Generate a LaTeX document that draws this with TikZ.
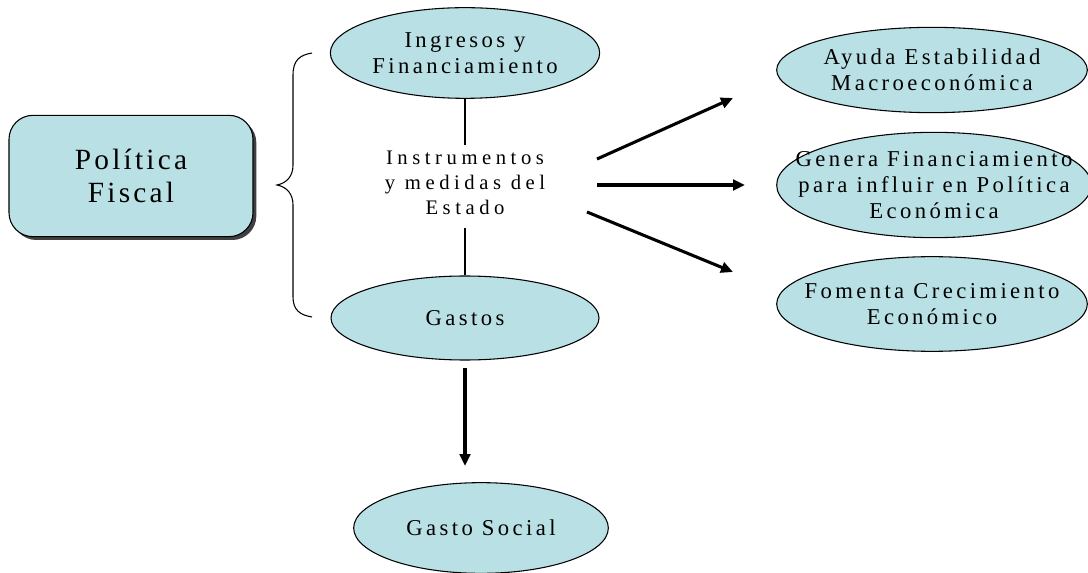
\documentclass[tikz,border=0pt]{standalone}
\usepackage{fontspec}
\setmainfont{Liberation Serif}
\newfontfamily\lsfont{Liberation Serif}[LetterSpace=15]
\newfontfamily\lsfontw{Liberation Serif}[LetterSpace=22]
\newfontfamily\lsfontb{Liberation Serif}[LetterSpace=11]
\usetikzlibrary{shapes.geometric,shadows,arrows.meta}
\definecolor{fillblue}{RGB}{185,224,228}
\tikzset{
  ell/.style={ellipse, draw=black, line width=0.8pt, fill=fillblue, inner sep=0pt},
  elltxt/.style={align=center, inner sep=0pt, font=\lsfont\fontsize{17}{19.5}\selectfont},
  pfbox/.style={rectangle, rounded corners=18pt, draw=black, line width=0.8pt, fill=fillblue, align=center, font=\lsfontb\fontsize{22}{25}\selectfont,
     drop shadow={shadow xshift=2.5pt, shadow yshift=-2.5pt, fill=black!75, opacity=1}},
  plain/.style={align=center, font=\lsfontw\fontsize{15.5}{19}\selectfont, inner sep=0pt},
  thinline/.style={line width=0.8pt},
  bigarrow/.style={line width=2.3pt, -{Triangle[length=9pt,width=8pt]}}
}
\begin{document}
\begin{tikzpicture}[x=0.75pt,y=-0.75pt]
\useasboundingbox (0,0) rectangle (1088,573);
\node[pfbox, minimum width=183pt, minimum height=91pt] (pf) at (131,176) {Política\\Fiscal};
% brace
\draw[thinline] (312,53) .. controls (300,55) and (293,60) .. (293,75) -- (293,165) .. controls (293,176) and (287,183) .. (277,185)
  .. controls (287,187) and (293,194) .. (293,205) -- (293,297) .. controls (293,310) and (300,315) .. (312,317);
\node[ell, minimum width=202pt, minimum height=68pt, label={[elltxt]center:Ingresos y\\Financiamiento}] (ing) at (465,53) {};
\node[plain] (ins) at (465,183) {Instrumentos\\y medidas del\\Estado};
\node[ell, minimum width=201pt, minimum height=63pt, label={[elltxt]center:Gastos}] (gas) at (465,318) {};
\node[ell, minimum width=191pt, minimum height=68pt, label={[elltxt]center:Gasto Social}] (soc) at (481,528) {};
\node[ell, minimum width=233pt, minimum height=64pt, label={[elltxt]center:Ayuda Estabilidad\\Macroeconómica}] (ayu) at (932,70) {};
\node[ell, minimum width=236pt, minimum height=79pt, label={[elltxt]center:Genera Financiamiento\\para influir en Política\\Económica}] (gen) at (934,185) {};
\node[ell, minimum width=233pt, minimum height=71pt, label={[elltxt]center:Fomenta Crecimiento\\Económico}] (fom) at (932,304) {};
\draw[thinline] (ing.south) -- (465,145);
\draw[thinline] (465,228) -- (gas.north);
\coordinate (a1s) at (597,159); \coordinate (a1e) at (733,98);
\coordinate (a2s) at (597,185); \coordinate (a2e) at (745,185);
\coordinate (a3s) at (587,212); \coordinate (a3e) at (733,272);
\coordinate (a4s) at (465,368); \coordinate (a4e) at (465,466);
\draw[bigarrow] (a1s) -- (a1e);
\draw[bigarrow] (a2s) -- (a2e);
\draw[bigarrow] (a3s) -- (a3e);
\draw[bigarrow] (a4s) -- (a4e);
\end{tikzpicture}
\end{document}
